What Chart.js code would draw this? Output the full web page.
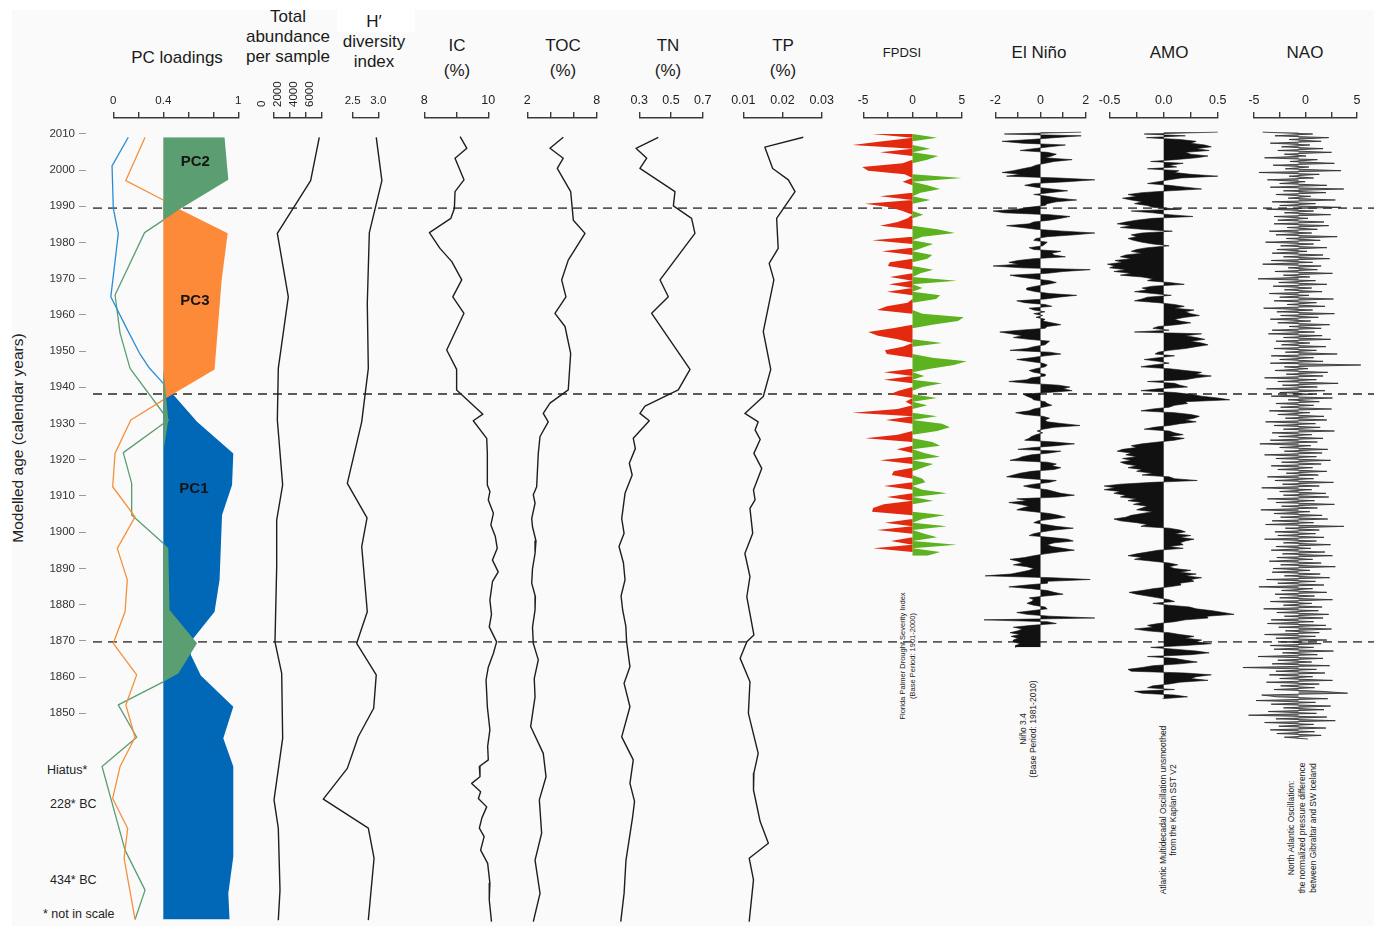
<!DOCTYPE html>
<html>
<head>
<meta charset="utf-8">
<title>Sediment core profiles and climate indices</title>
<script src="https://cdn.jsdelivr.net/npm/chart.js@4.4.1/dist/chart.umd.min.js"></script>
<style>
  html, body { margin: 0; padding: 0; background: #fff; }
  #figure { position: relative; width: 1374px; height: 926px; overflow: hidden;
            font-family: "Liberation Sans", Arial, Helvetica, sans-serif; color: #1a1a1a; }
  #paper { position: absolute; left: 12px; top: 10px; right: 0; bottom: 0; background: #fafafa; }
  #figure canvas { position: absolute; left: 0; top: 0; }
  .head { position: absolute; transform: translateX(-50%); text-align: center; white-space: nowrap;
          font-size: 17px; line-height: 20px; }
  .units { line-height: 25px; }
  .note { position: absolute; white-space: nowrap; font-size: 12.5px; line-height: 14px; color: #222; }
  .caption { position: absolute; white-space: nowrap; text-align: center; font-size: 8.5px; line-height: 10px;
             color: #222; transform: translate(-50%, -50%) rotate(-90deg); }
</style>
</head>
<body>
<div id="figure">
  <div id="paper"></div>
  <div style="position:absolute;left:337px;top:8px;width:78px;height:24px;background:#fff"></div>

  <div class="head" style="left:177px;top:48px">PC loadings</div>
  <div class="head" style="left:288px;top:7px">Total<br>abundance<br>per sample</div>
  <div class="head" style="left:374px;top:12px">H&#8242;<br>diversity<br>index</div>
  <div class="head units" style="left:457px;top:33px">IC<br>(%)</div>
  <div class="head units" style="left:563px;top:33px">TOC<br>(%)</div>
  <div class="head units" style="left:668px;top:33px">TN<br>(%)</div>
  <div class="head units" style="left:783px;top:33px">TP<br>(%)</div>
  <div class="head" style="left:902px;top:43px;font-size:13px">FPDSI</div>
  <div class="head" style="left:1039px;top:43px">El Niño</div>
  <div class="head" style="left:1169px;top:43px">AMO</div>
  <div class="head" style="left:1305px;top:43px">NAO</div>

  <div style="position:absolute;left:18px;top:438px;transform:translate(-50%,-50%) rotate(-90deg);white-space:nowrap;font-size:15.5px;color:#222">Modelled age (calendar years)</div>

  <div class="note" style="left:47px;top:763px">Hiatus*</div>
  <div class="note" style="left:50px;top:797px">228* BC</div>
  <div class="note" style="left:50px;top:873px">434* BC</div>
  <div class="note" style="left:43px;top:907px">* not in scale</div>

  <div class="caption" style="left:908px;top:656px;font-size:7.5px">Florida Palmer Drought Severity Index<br>(Base Period: 1901-2000)</div>
  <div class="caption" style="left:1028px;top:729px">Niño 3.4<br>(Base Period: 1981-2010)</div>
  <div class="caption" style="left:1168px;top:810px">Atlantic Multidecadal Oscillation unsmoothed<br>from the Kaplan SST V2</div>
  <div class="caption" style="left:1302px;top:828px;line-height:11px">North Atlantic Oscillation:<br>the normalized pressure difference<br>between Gibraltar and SW Iceland</div>
</div>

<script>
// ---------------- data (year, value) ----------------
const yearTicks = [2010, 2000, 1990, 1980, 1970, 1960, 1950, 1940, 1930, 1920, 1910, 1900, 1890, 1880, 1870, 1860, 1850];
const boundaryYears = [1989.8, 1939.1, 1871.5];

// PC loadings of the three principal components
const pc1 = [[2009.1,0.12],[2001.3,-0.01],[1989.7,0.0],[1982.9,0.04],[1975.6,0.015],[1965.6,-0.02],[1957.0,0.107],
  [1950.2,0.21],[1946.1,0.29],[1942.0,0.4],[1931.5,0.67],[1922.9,0.96],[1914.3,0.95],[1910.2,0.91],[1906.1,0.87],
  [1888.4,0.85],[1879.7,0.81],[1872.0,0.63],[1868.0,0.62],[1862.3,0.70],[1853.8,0.96],[1845.2,0.88],[1837.5,0.96],
  [1812.9,0.96],[1802.9,0.92],[1795.8,0.93]];
const pc2 = [[2009.1,0.89],[1997.5,0.92],[1989.5,0.53],[1986.5,0.4],[1983.1,0.25],[1966.1,0.014],[1955.7,0.054],
  [1946.1,0.134],[1932.0,0.44],[1923.1,0.08],[1914.7,0.147],[1906.1,0.147],[1898.4,0.4],[1897.0,0.44],[1880.2,0.45],
  [1871.1,0.67],[1862.9,0.52],[1860.6,0.4],[1854.3,0.04],[1845.5,0.187],[1837.5,-0.09],[1814.7,0.094],[1803.8,0.254],
  [1795.8,0.174]];
const pc3 = [[2009.1,0.254],[1997.3,0.10],[1992.0,0.4],[1989.5,0.53],[1982.9,0.915],[1970.2,0.867],[1945.8,0.81],
  [1937.5,0.4],[1932.0,0.14],[1922.9,0.014],[1913.8,-0.005],[1905.6,0.174],[1897.0,0.032],[1888.4,0.112],[1879.7,0.094],
  [1871.1,0.0],[1862.5,0.187],[1854.3,0.1],[1845.5,0.174],[1837.5,0.054],[1828.8,-0.005],[1820.6,0.115],[1812.5,0.086],
  [1795.8,0.174]];
const pcNames = ['PC2', 'PC3', 'PC1'];

const abundance = [[2009.1,5700],[1997.3,4630],[1982.9,500],[1965.6,1860],[1946.1,620],[1932.0,500],[1914.3,1160],
  [1904.7,420],[1892.0,420],[1871.5,210],[1862.9,1040],[1845.2,1160],[1828.4,90],[1820.7,620],[1803.8,830],[1795.6,620]];
const diversity = [[2009.1,2.96],[1997.3,3.07],[1983.1,2.825],[1963.8,2.785],[1946.1,2.805],[1931.5,2.676],[1914.7,2.395],
  [1905.3,2.78],[1897.5,2.676],[1879.7,2.785],[1871.1,2.578],[1862.5,2.96],[1853.4,2.91],[1845.7,2.61],[1837.0,2.395],
  [1828.6,1.926],[1820.7,2.805],[1812.5,2.917],[1795.6,2.805]];
const ic = [[2009.3,9.12],[2006.1,9.33],[2003.4,8.96],[1997.5,9.24],[1994.3,8.96],[1989.7,8.94],[1987.0,8.83],[1983.1,8.16],
  [1978.8,8.49],[1975.2,8.86],[1970.2,9.17],[1965.6,8.89],[1961.1,9.24],[1951.1,8.70],[1945.8,9.01],[1940.2,9.01],
  [1933.6,9.83],[1931.8,9.53],[1927.0,9.95],[1922.9,9.97],[1914.3,9.97],[1912.5,10.05],[1910.2,10.0],[1906.6,10.16],
  [1903.4,10.08],[1900.2,10.22],[1897.0,10.28],[1893.8,10.13],[1890.6,10.31],[1887.9,10.13],[1882.9,10.05],[1879.0,10.1],
  [1875.6,10.03],[1871.5,10.26],[1868.4,10.16],[1864.6,10.0],[1861.1,9.93],[1853.8,9.97],[1847.5,10.05],[1843.0,9.98],
  [1839.3,10.0],[1837.5,9.72],[1834.7,9.74],[1832.9,9.48],[1830.6,9.76],[1828.8,9.69],[1826.5,9.95],[1823.5,9.8],
  [1820.7,9.72],[1818.4,9.87],[1814.7,9.76],[1811.1,9.98],[1805.7,10.05],[1801.1,10.03],[1795.2,10.1]];
const toc = [[2009.1,5.11],[2006.1,3.96],[2003.4,5.11],[2000.6,4.59],[1994.3,5.75],[1986.5,5.98],[1982.9,6.99],
  [1975.6,5.54],[1970.2,4.97],[1965.6,5.34],[1961.1,4.39],[1957.5,5.26],[1950.2,5.75],[1940.2,5.54],[1936.6,3.96],
  [1933.8,3.38],[1931.5,3.81],[1927.5,3.10],[1922.9,2.95],[1913.8,2.81],[1911.6,2.52],[1909.3,2.67],[1905.1,2.38],
  [1902.9,2.45],[1899.0,2.75],[1895.6,2.67],[1891.5,2.45],[1887.5,2.38],[1883.8,2.7],[1880.2,2.67],[1875.5,2.45],
  [1871.1,2.52],[1866.6,2.95],[1861.5,2.6],[1856.5,2.67],[1848.4,2.29],[1841.1,3.38],[1834.7,3.62],[1828.4,3.04],
  [1819.3,3.24],[1812.0,2.67],[1802.9,3.10],[1795.2,2.52]];
const tn = [[2009.1,0.42],[2006.1,0.279],[2003.4,0.347],[2000.6,0.304],[1994.3,0.525],[1990.4,0.515],[1987.0,0.63],
  [1982.9,0.651],[1970.2,0.431],[1965.6,0.483],[1961.1,0.378],[1945.8,0.62],[1940.2,0.546],[1935.8,0.336],[1933.8,0.304],
  [1931.8,0.363],[1927.0,0.262],[1924.2,0.275],[1920.2,0.237],[1917.0,0.255],[1912.0,0.21],[1905.1,0.189],[1901.1,0.204],
  [1897.5,0.172],[1893.0,0.2],[1888.4,0.21],[1884.0,0.185],[1880.2,0.195],[1875.8,0.215],[1871.5,0.22],[1864.7,0.241],
  [1860.2,0.204],[1853.8,0.241],[1845.6,0.189],[1839.3,0.262],[1832.9,0.241],[1828.0,0.27],[1823.8,0.258],[1812.0,0.216],
  [1802.9,0.204],[1795.2,0.183]];
const tp = [[2009.1,0.0253],[2006.4,0.0155],[2000.6,0.0175],[1997.5,0.0215],[1994.3,0.0232],[1987.0,0.0185],[1978.8,0.0189],
  [1974.7,0.0166],[1970.2,0.0178],[1956.1,0.0151],[1945.8,0.017],[1938.4,0.0151],[1933.8,0.0104],[1931.5,0.0138],
  [1929.3,0.013],[1926.7,0.0143],[1922.9,0.0127],[1918.8,0.0147],[1912.9,0.0126],[1910.2,0.013],[1907.9,0.0117],
  [1901.1,0.0124],[1895.6,0.0104],[1889.3,0.0117],[1883.8,0.0109],[1873.4,0.0127],[1871.5,0.0109],[1867.0,0.0092],
  [1860.6,0.0117],[1852.0,0.0113],[1841.1,0.0138],[1835.7,0.0127],[1831.1,0.0126],[1822.5,0.0143],[1816.6,0.0164],
  [1812.5,0.0115],[1806.6,0.0126],[1795.2,0.0115]];

// Florida Palmer Drought Severity Index, yearly from 2010 downwards
const fpdsiStart = 2010;
const fpdsi = [
  -4.1, 2.5, -3.0, -6.1, 1.8, -3.3, 2.6, 1.5, -1.0, -5.1,
  -4.5, -0.8, 5.0, -1.0, 1.5, 2.8, 0.8, -3.3, 1.8, -4.8,
  -2.3, -1.0, 1.1, -0.5, -1.5, -3.3, 2.5, 4.3, 1.0, -4.1,
  2.1, 1.0, -3.1, 2.0, 1.5, -2.3, -2.5, 2.1, 0.8, -2.3,
  4.5, -2.4, 1.0, -2.6, 2.8, 2.4, -0.5, -2.6, -3.6, 1.0,
  5.2, 4.6, 2.0, -2.0, -4.5, -3.5, -1.5, 3.0, -1.0, -2.8,
  -2.6, 2.0, 5.5, 4.2, 1.8, -2.9, 1.2, -2.9, 3.0, 1.0,
  -1.4, -2.3, 2.5, -0.7, 1.5, -1.5, -6.1, 2.5, -2.7, 3.0,
  3.8, 2.5, -1.5, -4.8, 2.0, 2.8, -1.6, 1.2, 2.8, -3.3,
  2.1, 1.0, -1.9, -2.1, 1.0, 1.3, -2.9, 1.0, 3.5, -2.6,
  2.1, -2.9, -4.0, -4.1, 3.3, 1.0, -2.8, 3.5, -3.6, 1.2,
  2.5, -2.2, 4.5, -4.0, 2.8, 1.5];

// Nino 3.4 anomaly, half-yearly from 2010.5 downwards
const ninoStart = 2010.5;
const nino = [
  1.8, -1.6, 1.8, 0.6, -0.4, -1.7, -0.8, 1.1, 0.4, -0.3,
  -0.9, 0.3, 0.7, 0.5, 0.2, 1.4, 0.6, 0.2, -0.2, -0.4,
  -0.8, -1.2, -1.7, -0.9, -1.5, 0.8, 2.4, 1.2, -0.3, -0.7,
  -0.2, 0.5, 1.2, 0.4, -0.3, 0.3, 0.8, 1.6, 0.7, 0.3,
  0.2, -0.5, -1.0, -2.1, -1.6, 0.4, 1.3, 0.9, 0.4, -0.3,
  -0.5, -1.5, -0.8, -0.2, 1.0, 2.4, 1.5, 0.3, -0.2, -0.3,
  0.3, 0.2, 0.1, -0.5, -0.3, 0.9, 0.5, 0.6, 1.1, -0.3,
  -1.0, -1.4, -1.0, -2.1, -0.8, 2.2, 1.0, 0.3, -1.35, -0.9,
  -0.3, 0.4, 0.7, 0.3, -0.2, -0.6, -0.6, -0.2, 0.4, 1.6,
  0.8, 0.2, -1.05, -0.7, 0.2, 0.5, -0.5, -0.3, 0.2, -0.3,
  0.1, -0.2, 0.2, 0.1, 0.5, 0.9, 0.3, 0.2, -0.9, -1.8,
  -1.3, -0.8, -1.2, -0.5, 0.4, 0.3, 0.2, -0.3, -0.6, -1.35,
  0.4, 0.9, 0.2, -0.4, -1.05, -0.5, 0.1, 0.3, 0.2, -0.2,
  -0.5, -0.3, 0.2, 0.2, -0.4, -0.6, -1.4, -0.5, 0.8, 1.3,
  1.0, 1.4, 0.3, -0.75, -0.6, -0.4, -0.3, 0.2, 0.3, 0.5,
  0.1, -0.3, -0.5, -1.1, -0.7, 0.1, 0.4, 0.2, 0.3, 1.0,
  1.75, 0.6, 0.1, -0.15, 0.1, -0.2, -0.4, -0.5, -0.7, 0.6,
  1.5, 0.7, -0.3, -1.0, 0.9, 0.4, -0.4, -0.8, -1.0, -1.35,
  0.3, 0.7, 0.5, 0.9, 0.6, -0.4, -0.9, -1.2, -1.5, -0.5,
  0.7, 0.4, -0.3, -0.75, -0.4, 0.3, 0.6, 0.9, 1.5, 0.8,
  -1.05, -0.6, -1.4, -0.9, -0.5, -0.8, -1.05, -0.3, 0.4, 0.8,
  1.1, 0.5, -0.1, -0.3, 0.2, 0.7, 1.45, 0.6, 0.1, -0.3,
  -0.5, 0.4, 1.2, 1.45, 0.6, 0.3, 0.5, 1.0, 1.5, 0.8,
  0.2, -0.3, -0.7, -1.35, -1.0, -0.8, -1.2, -0.6, -0.3, -0.5,
  -0.9, -1.3, -2.45, 0.5, 2.2, 0.3, 0.3, -0.6, -1.4, -0.4,
  0.3, 0.6, 1.0, 0.2, -0.5, -0.3, -0.4, -0.6, -0.3, 0.2,
  0.3, -0.4, -1.05, -0.6, 0.4, 2.4, -2.5, 0.3, 0.7, -0.4,
  -1.2, -0.8, -1.0, -1.35, -0.9, -1.3, -1.0, -1.2, -1.2, -0.9,
  -1.1, -1.1];

// Atlantic Multidecadal Oscillation, half-yearly from 2010.5 downwards
const amoStart = 2010.5;
const amo = [
  0.50, -0.18, 0.20, -0.16, 0.15, 0.30, 0.25, 0.38, 0.44, 0.30,
  0.42, 0.20, 0.25, 0.41, 0.30, 0.10, -0.12, 0.18, 0.05, 0.12,
  -0.15, 0.14, 0.10, 0.25, 0.50, 0.16, 0.05, -0.05, -0.15, 0.05,
  0.20, 0.35, 0.05, -0.20, -0.33, -0.25, -0.38, -0.30, -0.20, -0.27,
  -0.15, -0.10, 0.16, -0.30, -0.10, 0.05, 0.27, -0.10, -0.25, -0.35,
  -0.43, -0.30, -0.40, -0.20, 0.08, -0.20, -0.30, -0.25, -0.33, -0.28,
  -0.20, -0.10, 0.05, -0.15, -0.25, -0.30, -0.20, -0.35, -0.40, -0.30,
  -0.45, -0.38, -0.52, -0.45, -0.50, -0.35, -0.46, -0.30, -0.40, -0.20,
  -0.10, -0.15, 0.05, 0.19, -0.10, -0.20, -0.15, -0.27, -0.10, 0.07,
  -0.15, -0.20, -0.27, -0.05, 0.10, 0.19, 0.10, 0.28, 0.20, 0.25,
  0.33, 0.20, 0.10, 0.15, 0.25, 0.12, -0.05, -0.10, 0.05, -0.27,
  0.35, 0.20, 0.30, 0.38, 0.25, 0.35, 0.41, 0.30, 0.20, 0.05,
  -0.05, -0.08, 0.10, -0.05, -0.18, -0.05, 0.05, -0.10, -0.21, 0.05,
  0.20, 0.35, 0.30, 0.44, 0.30, 0.20, -0.15, 0.10, 0.15, 0.22,
  -0.05, -0.21, 0.10, 0.25, 0.35, 0.50, 0.61, 0.20, 0.22, 0.10,
  0.05, -0.10, -0.21, 0.10, 0.25, 0.33, 0.28, 0.20, 0.30, 0.15,
  0.05, -0.09, -0.18, 0.05, 0.10, 0.18, 0.05, 0.19, 0.10, -0.05,
  -0.20, -0.30, -0.25, -0.38, -0.43, -0.30, -0.35, -0.25, -0.38, -0.30,
  -0.40, -0.35, -0.25, -0.33, -0.20, -0.25, -0.10, -0.20, 0.05, 0.10,
  0.31, -0.10, -0.40, -0.55, -0.45, -0.55, -0.40, -0.46, -0.35, -0.40,
  -0.25, -0.33, -0.20, -0.28, -0.15, -0.20, -0.25, -0.10, -0.20, -0.30,
  -0.35, -0.46, -0.40, -0.25, -0.15, -0.21, 0.05, 0.15, 0.20, 0.10,
  0.25, 0.15, 0.28, 0.20, 0.15, 0.18, 0.05, 0.18, -0.05, -0.15,
  -0.25, -0.33, -0.20, -0.27, -0.10, 0.05, 0.13, 0.05, 0.10, 0.25,
  0.15, 0.30, 0.20, 0.35, 0.25, 0.28, 0.15, 0.16, 0.05, -0.10,
  -0.20, -0.32, -0.25, -0.15, -0.05, 0.05, 0.10, -0.10, 0.05, 0.24,
  0.30, 0.45, 0.55, 0.65, 0.40, 0.41, 0.20, 0.10, -0.05, -0.15,
  -0.10, -0.27, -0.15, 0.05, 0.15, 0.28, 0.20, 0.35, 0.30, 0.44,
  0.20, -0.12, 0.10, 0.30, 0.42, 0.25, -0.15, 0.10, 0.20, 0.31,
  0.15, -0.10, -0.20, -0.33, -0.30, 0.20, 0.44, 0.30, 0.25, 0.41,
  0.15, 0.05, -0.10, -0.15, 0.10, -0.27, -0.20, 0.10, 0.22, -0.01];

// North Atlantic Oscillation, half-yearly from 2010.5 downwards
const naoStart = 2010.5;
const nao = [
  -3.8, 1.5, -2.5, 3.2, -1.0, 2.4, -3.0, 1.2, -1.8, 2.6,
  -2.2, 3.5, -1.5, 0.8, -3.6, 2.0, -0.9, 3.8, -2.7, 1.1,
  -1.4, 4.5, -4.2, 2.2, -1.0, 1.6, -3.3, 0.7, -2.0, 3.0,
  -3.0, 4.8, -1.6, 2.9, -2.4, 1.3, -1.1, 3.9, -2.8, 1.8,
  -2.0, 4.5, -3.4, 1.6, -1.5, 3.4, -2.6, 1.0, -2.2, 2.7,
  -2.6, 3.2, -1.2, 2.0, -3.1, 1.4, -2.4, 4.1, -1.3, 2.3,
  -3.5, 1.6, -1.9, 3.0, -2.3, 0.9, -2.8, 2.6, -1.6, 3.3,
  -2.9, 1.5, -3.8, 2.4, -1.1, 2.0, -2.5, 3.6, -1.6, 1.2,
  -4.3, 1.8, -2.1, 3.0, -2.7, 1.4, -1.5, 2.5, -3.1, 1.1,
  -2.0, 3.7, -2.6, 1.9, -1.2, 2.8, -3.7, 1.5, -2.3, 3.8,
  -1.9, 2.1, -3.0, 1.3, -2.2, 3.3, -1.0, 2.4, -2.8, 1.7,
  -3.2, 2.5, -1.6, 3.4, -2.4, 1.2, -1.8, 2.9, -2.6, 1.9,
  -1.4, 4.1, -2.9, 1.6, -2.0, 2.6, -3.0, 6.6, -1.5, 1.0,
  -2.5, 3.1, -1.3, 2.6, -3.6, 1.9, -2.2, 4.2, -1.7, 2.0,
  -3.4, 2.8, -2.0, 1.5, -2.9, 3.6, -1.1, 2.2, -2.4, 1.6,
  -1.9, 3.5, -3.1, 1.2, -2.2, 2.7, -1.4, 3.0, -3.5, 1.8,
  -2.6, 2.3, -1.6, 3.8, -2.8, 1.4, -2.1, 2.6, -3.0, 2.0,
  -4.1, 1.3, -2.0, 3.1, -1.5, 2.5, -3.6, 1.9, -2.4, 3.4,
  -1.8, 2.4, -2.9, 1.5, -2.2, 3.0, -1.3, 2.1, -3.3, 1.6,
  -2.5, 3.7, -1.7, 2.2, -3.9, 1.4, -2.0, 2.9, -1.6, 3.2,
  -3.3, 1.7, -2.4, 3.8, -1.8, 2.0, -4.0, 1.2, -2.6, 2.5,
  -1.9, 3.1, -2.8, 1.6, -3.5, 4.8, -1.4, 2.2, -2.5, 1.8,
  -2.2, 2.7, -3.6, 1.9, -1.6, 3.4, -2.4, 1.3, -2.9, 2.8,
  -1.7, 3.6, -2.3, 1.5, -3.1, 2.4, -1.9, 3.9, -2.7, 1.2,
  -2.8, 2.3, -1.5, 3.3, -3.4, 1.8, -2.2, 2.7, -4.2, 1.5,
  -1.8, 3.0, -2.5, 1.7, -2.0, 3.6, -3.0, 1.4, -1.6, 2.5,
  -3.7, 2.1, -2.3, 3.2, -1.5, 2.6, -2.9, 1.6, -3.3, 2.9,
  -2.1, 3.5, -1.4, 2.2, -3.6, 1.8, -2.4, 3.0, -1.9, 2.4,
  -3.0, 1.6, -2.6, 3.7, -1.7, 2.0, -4.3, 2.6, -2.2, 1.4,
  -2.8, 3.3, -5.9, 1.9, -2.4, 2.8, -3.1, 1.5, -2.0, 3.6,
  -3.4, 2.2, -1.9, 1.7, -2.6, 2.5, 5.2, -3.9, -2.2, 3.1,
  -4.5, 1.8, -2.9, 3.4, -1.6, 2.7, -3.2, 1.9, -5.3, 3.0,
  -2.4, 3.9, -3.6, 1.6, -2.1, 2.9, -3.0, 1.7, -2.3, 2.4,
  -1.5, 1.0];

// axis ticks and their labels
const pcTicks = [0, 0.2, 0.4, 0.6, 0.8, 1];          const pcTickLabels = ['0', '', '0.4', '', '', '1'];
const abundanceTicks = [0, 2000, 4000, 6000];        const abundanceTickLabels = ['0', '2000', '4000', '6000'];
const diversityTicks = [2.5, 3.0];                   const diversityTickLabels = ['2.5', '3.0'];
const icTicks = [8, 9, 10];                          const icTickLabels = ['8', '', '10'];
const tocTicks = [2, 4, 6, 8];                       const tocTickLabels = ['2', '', '', '8'];
const tnTicks = [0.3, 0.5, 0.7];                     const tnTickLabels = ['0.3', '0.5', '0.7'];
const tpTicks = [0.01, 0.02, 0.03];                  const tpTickLabels = ['0.01', '0.02', '0.03'];
const fpdsiTicks = [-5, -2.5, 0, 2.5, 5];            const fpdsiTickLabels = ['-5', '', '0', '', '5'];
const ninoTicks = [-2, -1, 0, 1, 2];                 const ninoTickLabels = ['-2', '', '0', '', '2'];
const amoTicks = [-0.5, -0.25, 0, 0.25, 0.5];        const amoTickLabels = ['-0.5', '', '0.0', '', '0.5'];
const naoTicks = [-5, -2.5, 0, 2.5, 5];              const naoTickLabels = ['-5', '', '0', '', '5'];

// ---------------- layout ----------------
const FONT = '"Liberation Sans", Arial, Helvetica, sans-serif';
Chart.defaults.font.family = FONT;
Chart.defaults.color = '#222';

const W = 1374, H = 926;
const AXIS_Y = 118, AREA_BOTTOM = 920;
const YMAX = 2014.36, YMIN = 1795.65;
const figure = document.getElementById('figure');

function addCanvas(height) {
  const c = document.createElement('canvas');
  c.width = W;
  c.height = height;
  c.style.width = W + 'px';
  c.style.height = height + 'px';
  figure.appendChild(c);
  return c;
}

const quiet = () => ({legend: {display: false}, tooltip: {enabled: false}});
const profile = pairs => pairs.map(([y, v]) => ({x: v, y}));
const series = (start, step, vals) => vals.map((v, i) => ({x: v, y: start - i * step}));

// top axis of one panel, drawn on its own layer so the data may run past it
function drawAxis(p) {
  new Chart(addCanvas(H), {
    type: 'line',
    data: {datasets: []},
    options: {
      responsive: false, animation: false, events: [], devicePixelRatio: 1,
      layout: {padding: {left: p.px[0], right: W - p.px[1], top: AXIS_Y - 40, bottom: H - AREA_BOTTOM}},
      plugins: quiet(),
      scales: {
        x: {
          type: 'linear', position: 'top', min: p.min, max: p.max,
          afterBuildTicks: s => { s.ticks = p.ticks.map(v => ({value: v})); },
          afterFit: s => { s.height = 40; },
          ticks: {autoSkip: false, minRotation: p.rot || 0, maxRotation: p.rot || 0, padding: 5,
                  color: '#222', font: {size: p.font || 12.5, lineHeight: 1}, callback: (v, i) => p.labels[i]},
          grid: {drawOnChartArea: false, tickLength: 6, color: '#3a3a3a', lineWidth: 1.4},
          border: {color: '#3a3a3a', width: 1.4}
        },
        y: {type: 'linear', display: false, min: YMIN, max: YMAX}
      }
    }
  });
}

// data layer of one panel: same pixel mapping as the axis, wider span
function drawData(p, datasets, plugins) {
  const k = (p.px[1] - p.px[0]) / (p.max - p.min);
  const left = p.px[0] - (p.min - p.span[0]) * k;
  const right = p.px[1] + (p.span[1] - p.max) * k;
  new Chart(addCanvas(H), {
    type: 'line',
    data: {datasets},
    options: {
      responsive: false, animation: false, events: [], devicePixelRatio: 1,
      indexAxis: 'y',
      layout: {padding: {left, right: W - right, top: AXIS_Y, bottom: H - AREA_BOTTOM}},
      plugins: quiet(),
      elements: {point: {radius: 0}, line: {tension: 0, borderJoinStyle: 'round'}},
      scales: {
        x: {type: 'linear', display: false, min: p.span[0], max: p.span[1]},
        y: {type: 'linear', display: false, min: YMIN, max: YMAX}
      }
    },
    plugins: plugins || []
  });
}

function panel(p, datasets, plugins) {
  drawAxis(p);
  drawData(p, datasets, plugins);
}

const blackLine = data => ({data, borderColor: '#1e1e1e', borderWidth: 1.4, fill: false, clip: false});

// dashed zone boundaries, behind everything else
new Chart(addCanvas(H), {
  type: 'line',
  data: {datasets: boundaryYears.map(yr => ({
    data: [{x: 0, y: yr}, {x: 1, y: yr}],
    borderColor: '#5a5a5a', borderWidth: 1.8, borderDash: [9, 6], pointRadius: 0, clip: false
  }))},
  options: {
    responsive: false, animation: false, events: [], devicePixelRatio: 1,
    layout: {padding: {left: 93, right: 0, top: AXIS_Y, bottom: H - AREA_BOTTOM}},
    plugins: quiet(),
    scales: {
      x: {type: 'linear', display: false, min: 0, max: 1},
      y: {type: 'linear', display: false, min: YMIN, max: YMAX}
    }
  }
});

// age axis on the left
const pxPerYear = (AREA_BOTTOM - AXIS_Y) / (YMAX - YMIN);
new Chart(addCanvas(760), {
  type: 'line',
  data: {datasets: []},
  options: {
    responsive: false, animation: false, events: [], devicePixelRatio: 1,
    layout: {padding: {left: 0, right: W - 90, top: AXIS_Y, bottom: 3}},
    plugins: quiet(),
    scales: {
      x: {type: 'linear', display: false, min: 0, max: 1},
      y: {
        type: 'linear', position: 'left', min: YMAX - (757 - AXIS_Y) / pxPerYear, max: YMAX,
        afterBuildTicks: s => { s.ticks = yearTicks.map(v => ({value: v})); },
        afterFit: s => { s.width = 86; },
        ticks: {autoSkip: false, padding: 4, color: '#333', font: {size: 11.5}, callback: v => String(v)},
        grid: {drawOnChartArea: false, tickLength: 7, color: '#9a9a9a', lineWidth: 1},
        border: {display: false}
      }
    }
  }
});

// PC loadings: filled beyond 0.4, thin line below it
const PC_BASE = 0.4;
const pcBlue = '#0168b8', pcGreen = '#5a9e71', pcOrange = '#fd8a38';
const pcLine = (vals, color) => ({
  data: profile(vals), borderColor: color, borderWidth: 1.3, fill: false, clip: false,
  segment: {borderColor: c => (c.p0.parsed.x >= PC_BASE && c.p1.parsed.x >= PC_BASE) ? 'rgba(0,0,0,0)' : undefined}
});
const pcFill = (vals, color) => ({
  data: vals.map(([y, v]) => ({x: Math.max(v, PC_BASE), y})),
  backgroundColor: color, borderWidth: 0, fill: {value: PC_BASE}, clip: false
});
const pcNameAt = [[0.656, 2002.5], [0.653, 1964.5], [0.645, 1913.2]];
const pcNamePlugin = {
  id: 'pcNames',
  afterDatasetsDraw(chart) {
    const {ctx, scales: {x, y}} = chart;
    ctx.save();
    ctx.font = 'bold 15px ' + FONT;
    ctx.fillStyle = '#151515';
    ctx.textAlign = 'center';
    ctx.textBaseline = 'middle';
    pcNames.forEach((name, i) => ctx.fillText(name, x.getPixelForValue(pcNameAt[i][0]), y.getPixelForValue(pcNameAt[i][1])));
    ctx.restore();
  }
};
panel({min: 0, max: 1, px: [113.3, 238.3], span: [-0.3, 1.2], ticks: pcTicks, labels: pcTickLabels, font: 11.5}, [
  pcLine(pc1, '#2b8dd6'),
  pcLine(pc3, '#f5903c'),
  pcLine(pc2, '#5a9e71'),
  pcFill(pc2, pcGreen),
  pcFill(pc3, pcOrange),
  pcFill(pc1, pcBlue)
], [pcNamePlugin]);

panel({min: 0, max: 6000, px: [273.3, 321.7], span: [0, 6000], ticks: abundanceTicks, labels: abundanceTickLabels, rot: 90, font: 11.5},
  [blackLine(profile(abundance))]);
panel({min: 2.5, max: 3.0, px: [352.7, 378.3], span: [2.5, 3.0], ticks: diversityTicks, labels: diversityTickLabels, font: 11.5},
  [blackLine(profile(diversity))]);
panel({min: 8, max: 10, px: [424.3, 488.3], span: [8, 10], ticks: icTicks, labels: icTickLabels},
  [blackLine(profile(ic))]);
panel({min: 2, max: 8, px: [527.3, 596.7], span: [2, 8], ticks: tocTicks, labels: tocTickLabels},
  [blackLine(profile(toc))]);
panel({min: 0.3, max: 0.7, px: [639.3, 702.7], span: [0.3, 0.7], ticks: tnTicks, labels: tnTickLabels},
  [blackLine(profile(tn))]);
panel({min: 0.01, max: 0.03, px: [743.3, 821.7], span: [0.01, 0.03], ticks: tpTicks, labels: tpTickLabels},
  [blackLine(profile(tp))]);

// FPDSI: dry spells red, wet spells green
panel({min: -5, max: 5, px: [863.2, 961.8], span: [-8, 8], ticks: fpdsiTicks, labels: fpdsiTickLabels, font: 12}, [
  {data: fpdsi.map((v, i) => ({x: Math.min(v, 0), y: fpdsiStart - i})), backgroundColor: '#e3290f', borderWidth: 0, fill: {value: 0}, clip: false},
  {data: fpdsi.map((v, i) => ({x: Math.max(v, 0), y: fpdsiStart - i})), backgroundColor: '#5cb21f', borderWidth: 0, fill: {value: 0}, clip: false}
]);

const filledIndex = (data, fillColor, lineColor, width) => ({
  data, backgroundColor: fillColor, borderColor: lineColor, borderWidth: width, fill: {value: 0}, clip: false
});
panel({min: -2, max: 2, px: [995.3, 1085.7], span: [-3.5, 3.5], ticks: ninoTicks, labels: ninoTickLabels},
  [filledIndex(series(ninoStart, 0.5, nino), '#111', '#111', 0.6)]);
panel({min: -0.5, max: 0.5, px: [1109.6, 1217.8], span: [-0.8, 0.8], ticks: amoTicks, labels: amoTickLabels},
  [filledIndex(series(amoStart, 0.5, amo), '#111', '#111', 0.6)]);
panel({min: -5, max: 5, px: [1254, 1357.1], span: [-8, 8], ticks: naoTicks, labels: naoTickLabels},
  [filledIndex(series(naoStart, 0.5, nao), 'rgba(55,55,55,0.6)', '#262626', 0.8)]);
</script>
</body>
</html>
